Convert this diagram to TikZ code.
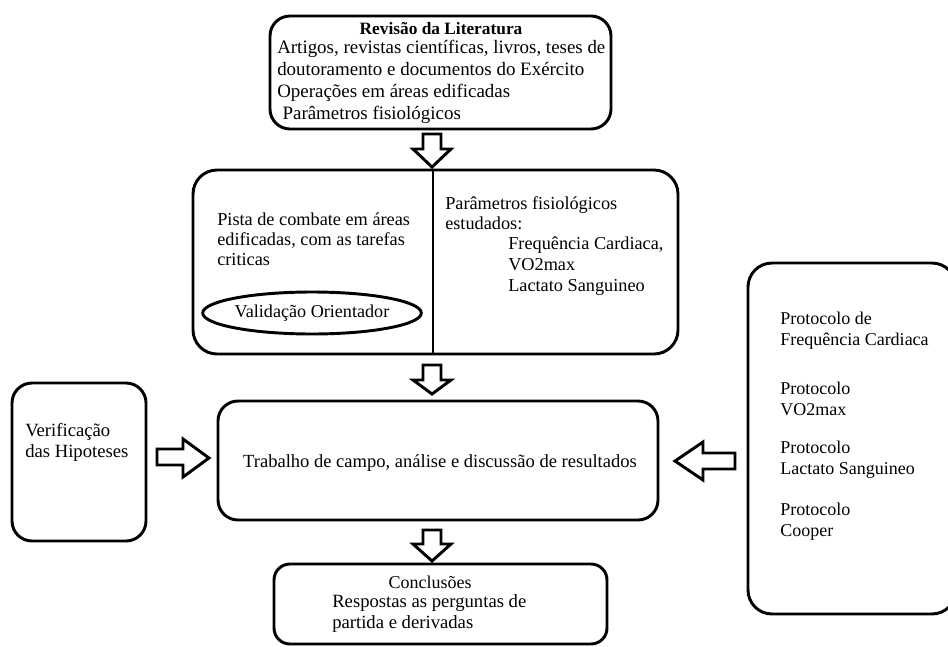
\documentclass[tikz,border=0pt]{standalone}
\usepackage{fontspec}
\setmainfont{Liberation Serif}
\usetikzlibrary{shapes.geometric}
\begin{document}
\begin{tikzpicture}[x=0.75pt,y=-0.75pt,
  box/.style={draw, line width=2.2pt, rounded corners=15pt, inner sep=0pt},
  blockarrow/.style={draw, line width=2.2pt, fill=white, line join=miter},
  txt/.style={inner sep=0pt, align=left, font=\fontsize{13.7}{15}\selectfont},
  txtw/.style={txt, anchor=west},
]
\clip (0,0) rectangle (948,646);
\fill[white] (0,0) rectangle (948,646);

% boxes
\node[box, minimum width=255.75pt, minimum height=84.75pt] (lit) at (440.5,72.5) {};
\node[box, rounded corners=18pt, minimum width=363.75pt, minimum height=138pt] (mid) at (435.5,262) {};
\node[box, minimum width=330pt, minimum height=89.25pt] (work) at (438,460.5) {};
\node[box, minimum width=100.5pt, minimum height=118.5pt] (hyp) at (79,462) {};
\node[box, rounded corners=18pt, minimum width=156pt, minimum height=263.25pt] (prot) at (852,438.5) {};
\node[box, rounded corners=12pt, minimum width=249.75pt, minimum height=60pt] (conc) at (440.5,604) {};

% divider in middle box
\coordinate (dv) at (433,262);
\draw[line width=2.2pt] (mid.north -| dv) -- (mid.south -| dv);

% ellipse
\node[draw, ellipse, line width=2.2pt, minimum width=157.5pt, minimum height=31.5pt, inner sep=0pt, font=\fontsize{13.6}{15}\selectfont] (val) at (312,313) {Validação Orientador};

% texts
\node[txt, font=\fontsize{13}{15}\selectfont\bfseries] (litT) at (441,29) {Revisão da Literatura};
\node[txtw, font=\fontsize{14.2}{16.5}\selectfont] (litB) at (277,82) {Artigos, revistas científicas, livros, teses de\\doutoramento e documentos do Exército\\Operações em áreas edificadas\\\hspace{4pt}Parâmetros fisiológicos};

\node[txtw, font=\fontsize{13.7}{15}\selectfont] (pista) at (217,239.5) {Pista de combate em áreas\\edificadas, com as tarefas\\criticas};
\node[txtw, font=\fontsize{13.7}{15}\selectfont] (param) at (445,213) {Parâmetros fisiológicos\\estudados:};
\node[txtw, font=\fontsize{13.7}{15.75}\selectfont] (plist) at (508,266) {Frequência Cardiaca,\\VO2max\\Lactato Sanguineo};

\node[txt, font=\fontsize{13.9}{15}\selectfont] (workT) at (440,463) {Trabalho de campo, análise e discussão de resultados};

\node[txtw, font=\fontsize{14}{15.75}\selectfont] (hypT) at (25,442.5) {Verificação\\das Hipoteses};

\node[txtw, font=\fontsize{13.5}{15.75}\selectfont] (p1) at (780,331) {Protocolo de\\Frequência Cardiaca};
\node[txtw, font=\fontsize{13.5}{15.75}\selectfont] (p2) at (780,399) {Protocolo\\VO2max};
\node[txtw, font=\fontsize{13.5}{15.75}\selectfont] (p3) at (780,459.5) {Protocolo\\Lactato Sanguineo};
\node[txtw, font=\fontsize{13.5}{15.75}\selectfont] (p4) at (780,521.5) {Protocolo\\Cooper};

\node[txt, font=\fontsize{13.5}{15}\selectfont] (concT) at (430,582) {Conclusões};
\node[txtw, font=\fontsize{14}{15}\selectfont] (concB) at (332,613.5) {Respostas as perguntas de\\partida e derivadas};

% block arrows
\draw[blockarrow] (423,134) -- (441,134) -- (441,149) -- (451,149) -- (432,167) -- (413,149) -- (423,149) -- cycle;
\draw[blockarrow] (423,365) -- (441,365) -- (441,380) -- (451,380) -- (432,394) -- (413,380) -- (423,380) -- cycle;
\draw[blockarrow] (423,530) -- (441,530) -- (441,544) -- (451,544) -- (432,561) -- (413,544) -- (423,544) -- cycle;
\draw[blockarrow] (157,449) -- (183,449) -- (183,439) -- (209,458) -- (183,477) -- (183,465) -- (157,465) -- cycle;
\draw[blockarrow] (735,453) -- (703,453) -- (703,442) -- (675,461) -- (703,480) -- (703,469) -- (735,469) -- cycle;
\end{tikzpicture}
\end{document}
